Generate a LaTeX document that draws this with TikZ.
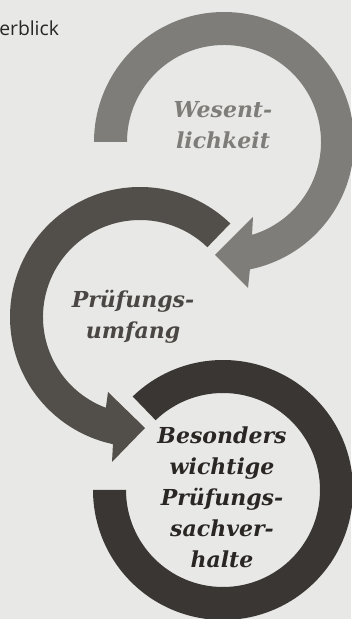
\documentclass[tikz,border=0pt]{standalone}
\usepackage{fontspec}
\setmainfont{DejaVu Serif}
\newfontfamily\headfont{Open Sans}
\usetikzlibrary{positioning}
\usepackage{xcolor}
\definecolor{bg_gray}{HTML}{E8E8E6}
\definecolor{ring_light}{HTML}{7F7D79}
\definecolor{ring_mid}{HTML}{524E4A}
\definecolor{ring_dark}{HTML}{3A3633}
\definecolor{text_dark}{HTML}{2A2624}

\begin{document}
\begin{tikzpicture}[x=0.75pt, y=0.75pt, every node/.style={
    align=center,
    inner sep=0pt,
    font=\fontsize{16.5}{23.25}\selectfont\bfseries\itshape
}]
    \useasboundingbox (0,0) rectangle (351,619);
    \fill[bg_gray] (0,0) rectangle (351,619);

    \coordinate (wesentlichkeit_center) at (224,477);
    \coordinate (pruefungsumfang_center) at (140,302);
    \coordinate (besonders_center) at (223,129);

    \fill[ring_light, shift={(wesentlichkeit_center)}] (180:130) arc (180:-78.5:130)
        -- (24,-146) -- (-9,-113) -- (29,-75) -- (-73.2:97) arc (-73.2:180:97) -- cycle;
    \fill[ring_mid, shift={(pruefungsumfang_center)}] (46:130) arc (46:258:130)
        -- (-28,-145) -- (5,-111) -- (-32,-75) -- (249.4:97) arc (249.4:46:97) -- cycle;
    \fill[ring_dark, shift={(besonders_center)}] (134:130) arc (134:-180:130)
        -- (180:97) arc (-180:134:97) -- cycle;

    \node (ueberblick) [anchor=base west, text=black!85, font=\headfont\fontsize{14.5}{16}\selectfont, shift={(-1, 583)}]
    {
        erblick
    };
    \node (wesentlichkeit) [text=ring_light, shift={(223, 493.5)}]
    {
        Wesent-\\lichkeit
    };
    \node (pruefungsumfang) [text=ring_mid!90!black, shift={(133, 302)}]
    {
        Prüfungs-\\umfang
    };
    \node (besonders_wichtige) [text=text_dark, shift={(222, 121.5)}]
    {
        Besonders\\wichtige\\Prüfungs-\\sachver-\\halte
    };
\end{tikzpicture}
\end{document}
